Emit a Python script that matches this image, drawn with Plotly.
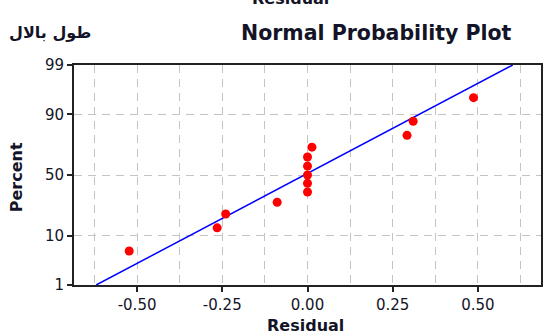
import plotly.graph_objects as go
from statistics import NormalDist

# ---- data ----
residuals = [-0.523, -0.265, -0.240, -0.089, 0.000, 0.000, 0.000, 0.000, 0.000, 0.013, 0.292, 0.310, 0.487]
percents = [5.4, 13.2, 20.5, 28.2, 36.0, 43.0, 50.0, 57.5, 64.8, 72.2, 79.9, 87.2, 94.9]
fit_residual = [-0.620, 0.602]
fit_percent = [1, 99]
y_tick_percent = [1, 10, 50, 90, 99]
y_tick_labels = ["1", "10", "50", "90", "99"]
x_tick_vals = [-0.50, -0.25, 0.00, 0.25, 0.50]
x_tick_labels = ["-0.50", "-0.25", "0.00", "0.25", "0.50"]

nd = NormalDist()
def z(p):
    return nd.inv_cdf(p / 100.0)

FONT = "DejaVu Sans"
TXT = "#141428"
GRID = "#c4c4c4"

fig = go.Figure()
fig.add_trace(go.Scatter(
    x=fit_residual, y=[z(p) for p in fit_percent], mode="lines",
    line=dict(color="#0000ff", width=1.5), hoverinfo="skip", showlegend=False))
fig.add_trace(go.Scatter(
    x=residuals, y=[z(p) for p in percents], mode="markers",
    marker=dict(color="#ff0000", size=9), showlegend=False))

fig.update_layout(
    width=546, height=336,
    margin=dict(l=74, r=3, t=65, b=51),
    paper_bgcolor="white", plot_bgcolor="white",
    font=dict(family=FONT, color=TXT),
)
fig.update_xaxes(
    range=[-0.685, 0.685], tickvals=x_tick_vals, ticktext=x_tick_labels,
    tickfont=dict(size=15, family=FONT, color=TXT),
    ticks="outside", ticklen=5, tickcolor="#222", tickwidth=1.5,
    showline=True, linecolor="#222", linewidth=2, mirror=True,
    showgrid=True, gridcolor=GRID, griddash="8px,6px", gridwidth=1.3,
    minor=dict(dtick=0.125, tick0=0, showgrid=True, gridcolor=GRID,
               griddash="8px,6px", gridwidth=1.3, ticks=""),
    zeroline=False,
)
fig.update_yaxes(
    range=[z(1), z(99)], tickvals=[z(p) for p in y_tick_percent], ticktext=y_tick_labels,
    tickfont=dict(size=15, family=FONT, color=TXT),
    ticks="outside", ticklen=5, tickcolor="#222", tickwidth=1.5,
    showline=True, linecolor="#222", linewidth=2, mirror=True,
    showgrid=True, gridcolor=GRID, griddash="8px,6px", gridwidth=1.3,
    zeroline=False,
)

ann = [
    dict(text="<b>Normal Probability Plot</b>", x=0.943, y=1.1455, xanchor="right", yanchor="middle",
         font=dict(size=20.5, family=FONT, color=TXT)),
    dict(text="<b>طول بالال</b>", x=-0.0512, y=1.148, xanchor="center", yanchor="middle",
         font=dict(size=16, family=FONT, color=TXT)),
    dict(text="<b>Residual</b>", x=0.4637, y=1.30, xanchor="center", yanchor="middle",
         font=dict(size=16, family=FONT, color=TXT)),
    dict(text="<b>Residual</b>", x=0.4947, y=-0.186, xanchor="center", yanchor="middle",
         font=dict(size=16, family=FONT, color=TXT)),
    dict(text="<b>Percent</b>", x=-0.1215, y=0.491, xanchor="center", yanchor="middle",
         textangle=-90, font=dict(size=16, family=FONT, color=TXT)),
]
for a in ann:
    a.update(xref="paper", yref="paper", showarrow=False)
fig.update_layout(annotations=ann)

fig.write_html("out.html", config={"displayModeBar": False},
               post_script="document.body.style.margin='0px';")
